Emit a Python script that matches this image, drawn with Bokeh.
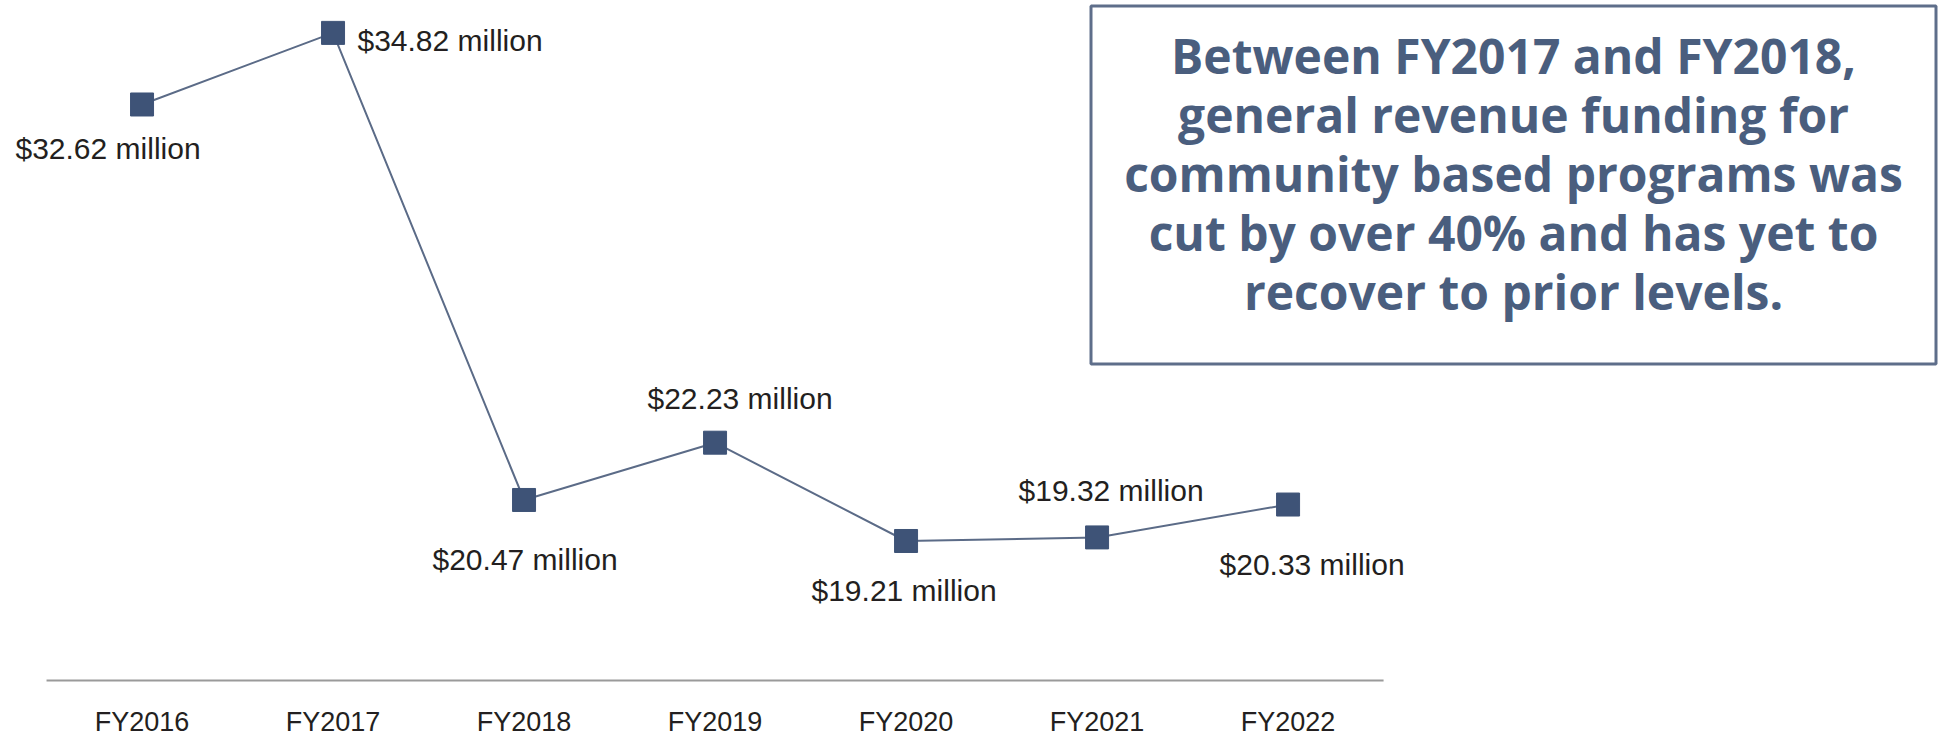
from bokeh.plotting import figure
from bokeh.models import ColumnDataSource, Range1d, FixedTicker
from bokeh.core.properties import value
from bokeh.embed import file_html
from bokeh.resources import INLINE

# ---------------- data ----------------
years = ["FY2016", "FY2017", "FY2018", "FY2019", "FY2020", "FY2021", "FY2022"]
funding = [32.62, 34.82, 20.47, 22.23, 19.21, 19.32, 20.33]  # $ million
value_labels = ["$32.62 million", "$34.82 million", "$20.47 million", "$22.23 million",
                "$19.21 million", "$19.32 million", "$20.33 million"]
note_lines = ["Between FY2017 and FY2018,",
              "general revenue funding for",
              "community based programs was",
              "cut by over 40% and has yet to",
              "recover to prior levels."]

# ---------------- layout / style ----------------
label_dx = [-34, 117, 1, 25, -2, 14, 24]     # screen px offsets of value labels
label_dy = [44, 8, 60, -44, 50, -47, 60]

FRAME_W, FRAME_H = 1941, 690
X0, X1 = -0.741, 9.421
Y0, Y1 = 14.617, 35.815
BASE_Y = 14.924

MARKER_C = "#3e5377"
LINE_C = "#5b6b87"
TEXT_C = "#231f20"
NOTE_C = "#4a5e7e"
BOX_C = "#5e6e8a"


def px_x(page_x):
    return X0 + page_x / FRAME_W * (X1 - X0)


def px_y(page_y):
    return Y1 - page_y / FRAME_H * (Y1 - Y0)


xs = list(range(len(years)))
src = ColumnDataSource(dict(x=xs, y=funding, label=value_labels, dx=label_dx, dy=label_dy))

p = figure(frame_width=FRAME_W, frame_height=FRAME_H,
           x_range=Range1d(X0, X1), y_range=Range1d(Y0, Y1),
           output_backend="svg", toolbar_location=None,
           min_border=0, outline_line_color=None,
           background_fill_color="white", border_fill_color="white")

p.xgrid.visible = False
p.ygrid.visible = False
p.yaxis.visible = False

ax = p.xaxis[0]
ax.ticker = FixedTicker(ticks=xs)
ax.major_label_overrides = {i: y for i, y in zip(xs, years)}
ax.axis_line_color = None
ax.major_tick_line_color = None
ax.minor_tick_line_color = None
ax.major_tick_out = 0
ax.major_tick_in = 0
ax.major_label_standoff = 16
ax.major_label_text_font = "Liberation Sans"
ax.major_label_text_font_size = "27px"
ax.major_label_text_color = TEXT_C

# baseline rule
p.segment(x0=[xs[0] - 0.5], y0=[BASE_Y], x1=[xs[-1] + 0.5], y1=[BASE_Y],
          line_color="#9a9a9a", line_width=2)

# series
p.line("x", "y", source=src, line_color=LINE_C, line_width=2)
p.scatter("x", "y", source=src, marker="square", size=23,
          fill_color=MARKER_C, line_color=MARKER_C)

p.text("x", "y", text="label", x_offset="dx", y_offset="dy", source=src,
       text_align="center", text_baseline="alphabetic",
       text_font=value("Liberation Sans"), text_font_size=value("30px"),
       text_color=TEXT_C)

# annotation box
p.quad(left=[px_x(1090.5)], right=[px_x(1935.5)], top=[px_y(5.5)], bottom=[px_y(363.5)],
       fill_color="white", line_color=BOX_C, line_width=3)

note_y = [px_y(54.5 + 59 * i) for i in range(len(note_lines))]
p.text(x=[px_x(1513)] * len(note_lines), y=note_y, text=note_lines,
       text_align="center", text_baseline="alphabetic",
       text_font=value("Open Sans"), text_font_style="bold",
       text_font_size=value("48px"), text_color=NOTE_C)

open("out.html", "w").write(file_html(p, INLINE))
